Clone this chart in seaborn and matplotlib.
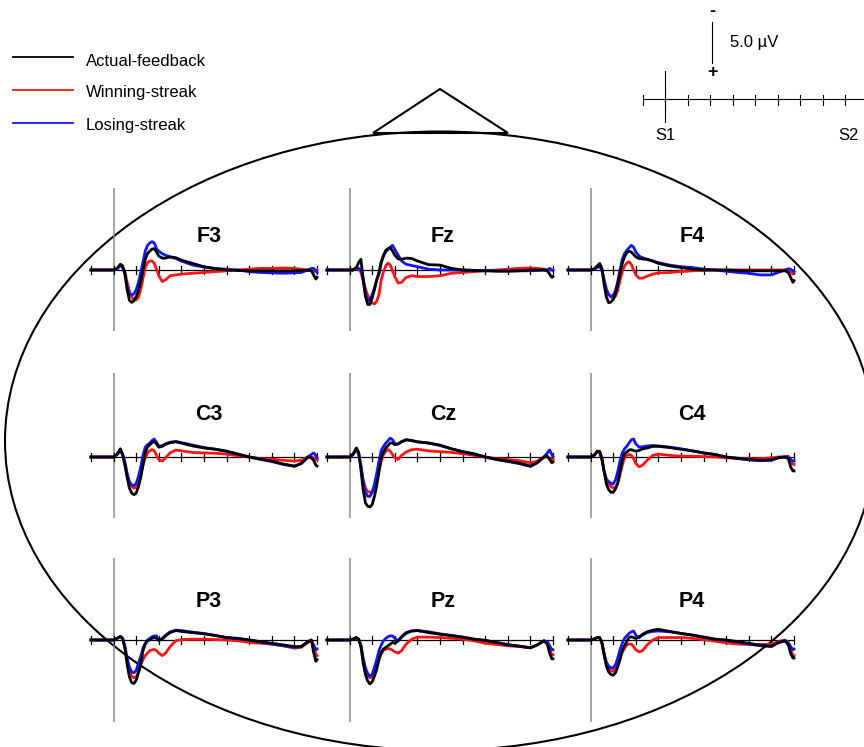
import matplotlib
matplotlib.use("Agg")
import matplotlib.pyplot as plt
from matplotlib.patches import Ellipse, Polygon
import pandas as pd
import seaborn as sns

# ---------------- data ----------------
TIME_MS = [-100, -50, 0, 15, 30, 40, 50, 60, 70, 80, 90, 100, 110, 120, 130, 140, 150, 160, 170, 180,
           190, 200, 215, 230, 250, 275, 300, 350, 400, 450, 500, 550, 600, 650, 700, 750, 800, 830,
           860, 875, 885, 895, 900]
ELECTRODES = ["F3", "Fz", "F4", "C3", "Cz", "C4", "P3", "Pz", "P4"]
CONDITIONS = ["Actual-feedback", "Winning-streak", "Losing-streak"]
COLORS = {"Actual-feedback": "#000000", "Winning-streak": "#ff1414", "Losing-streak": "#1414ff"}
TICKS_MS = [-100, 0, 100, 200, 300, 400, 500, 600, 700, 800, 900]
SCALE_UV = 5.0

# amplitudes in microvolts (negative plotted upward)
F3_actual = [0, 0, 0, -0.2, -0.7, -0.5, 0.5, 2.4, 3.7, 3.95, 3.75, 3.25, 2.55, 1.4, 0.0, -1.3, -2.0, -2.3, -2.55, -2.6, -2.2, -1.7, -1.45, -1.45, -1.6, -1.5, -1.2, -0.8, -0.4, -0.15, 0.0, 0.05, 0.1, 0.1, 0.1, 0.1, 0.1, 0.05, 0.0, 0.1, 0.6, 1.1, 0.9]
F3_winning = [0, 0, 0, -0.1, -0.6, -0.3, 0.3, 1.5, 2.6, 3.3, 3.6, 3.65, 3.3, 2.4, 1.0, -0.3, -0.9, -1.1, -1.1, -0.8, -0.1, 0.7, 1.4, 1.2, 0.7, 0.6, 0.5, 0.4, 0.3, 0.2, 0.1, 0.0, -0.1, -0.2, -0.2, -0.25, -0.2, -0.1, 0.0, 0.1, 0.2, 0.1, 0.0]
F3_losing = [0, 0, 0, -0.1, -0.6, -0.3, 0.3, 2.0, 2.9, 3.05, 2.9, 2.4, 1.5, 0.3, -1.0, -2.3, -3.0, -3.3, -3.45, -3.3, -2.6, -2.3, -2.0, -1.8, -1.6, -1.4, -1.1, -0.6, -0.35, -0.2, -0.1, 0.0, 0.2, 0.3, 0.35, 0.4, 0.35, 0.3, 0.0, -0.2, -0.2, 0.1, 0.3]

Fz_actual = [0, 0, 0, 0, -0.3, -0.9, -1.3, 1.2, 3.2, 4.2, 4.2, 3.4, 2.4, 1.2, 0.3, -1.0, -1.8, -2.4, -2.6, -2.7, -2.3, -1.8, -1.35, -1.3, -1.45, -1.4, -1.1, -0.65, -0.6, -0.2, 0.0, 0.05, 0.1, 0.15, 0.15, 0.1, 0.0, 0.0, 0.0, 0.1, 0.5, 0.9, 0.8]
Fz_winning = [0, 0, 0, 0, -0.3, -0.1, 0.3, 1.3, 2.3, 3.1, 3.6, 4.0, 4.15, 3.8, 3.0, 1.2, 0.2, -0.5, -0.85, -0.6, 0.1, 0.8, 1.6, 1.5, 0.9, 0.7, 0.8, 0.8, 0.7, 0.4, 0.3, 0.2, 0.1, 0.0, -0.1, -0.2, -0.25, -0.2, -0.1, 0.0, 0.0, 0.0, 0.0]
Fz_losing = [0, 0, 0, 0, -0.3, -0.2, 0.0, 1.0, 2.8, 3.8, 3.6, 3.0, 2.2, 1.2, 0.5, -0.9, -1.7, -2.2, -2.5, -2.8, -3.0, -2.5, -1.8, -1.1, -0.7, -0.55, -0.4, -0.1, 0.0, 0.0, 0.0, 0.05, 0.05, 0.1, 0.1, 0.1, 0.1, 0.05, 0.0, 0.0, -0.2, 0.0, 0.1]

F4_actual = [0, 0, 0, -0.1, -0.5, -0.8, -0.2, 1.8, 3.3, 4.0, 3.9, 3.6, 2.9, 1.8, 0.4, -0.8, -1.6, -2.1, -2.3, -2.2, -1.9, -1.6, -1.4, -1.35, -1.3, -1.1, -0.8, -0.5, -0.3, -0.1, 0.0, 0.0, 0.0, 0.05, 0.1, 0.1, 0.1, 0.1, 0.1, 0.3, 0.9, 1.5, 1.3]
F4_winning = [0, 0, 0, -0.1, -0.5, -0.4, 0.0, 1.3, 2.4, 3.0, 3.3, 3.4, 3.2, 2.5, 1.3, 0.2, -0.5, -0.85, -1.0, -0.7, 0.0, 0.6, 1.0, 1.0, 0.75, 0.5, 0.35, 0.3, 0.2, 0.1, 0.05, 0.0, 0.0, 0.0, 0.0, 0.0, 0.0, 0.0, 0.0, 0.0, 0.2, 0.5, 0.4]
F4_losing = [0, 0, 0, -0.1, -0.3, -0.5, 0.0, 1.2, 2.4, 3.0, 3.2, 3.1, 2.5, 1.4, 0.0, -1.3, -2.0, -2.4, -2.7, -3.0, -2.8, -2.2, -1.7, -1.5, -1.3, -1.1, -0.9, -0.6, -0.4, -0.3, -0.1, 0.0, 0.15, 0.3, 0.4, 0.6, 0.6, 0.3, 0.0, -0.15, -0.1, 0.1, 0.2]

C3_actual = [0, 0, 0, -0.3, -1.0, -0.3, 1.0, 2.5, 3.8, 4.4, 4.6, 4.4, 3.6, 2.5, 1.0, -0.6, -1.2, -1.5, -1.75, -1.9, -1.6, -1.2, -1.3, -1.55, -1.75, -1.85, -1.7, -1.35, -1.1, -0.95, -0.7, -0.35, 0.0, 0.25, 0.5, 0.85, 1.1, 0.8, 0.0, 0.1, 0.4, 1.0, 1.1]
C3_winning = [0, 0, 0, -0.3, -0.9, -0.3, 0.8, 2.2, 3.2, 3.6, 3.8, 3.7, 3.2, 2.2, 1.0, 0.1, -0.5, -0.75, -0.9, -0.75, -0.2, 0.3, 0.5, 0.1, -0.5, -0.85, -0.75, -0.55, -0.5, -0.45, -0.35, -0.15, 0.0, 0.2, 0.25, 0.4, 0.5, 0.4, 0.0, 0.0, 0.1, 0.3, 0.35]
C3_losing = [0, 0, 0, -0.3, -0.8, -0.3, 0.6, 2.0, 3.0, 3.4, 3.5, 3.2, 2.4, 1.2, -0.2, -1.2, -1.5, -1.7, -2.0, -2.2, -1.8, -1.3, -1.4, -1.6, -1.8, -1.9, -1.75, -1.45, -1.15, -0.95, -0.7, -0.35, 0.0, 0.3, 0.55, 0.9, 1.15, 0.8, 0.0, -0.3, -0.5, -0.2, 0.1]

Cz_actual = [0, 0, 0, -0.3, -1.1, -0.6, 1.5, 4.0, 5.6, 6.0, 6.1, 5.8, 4.8, 3.5, 1.8, 0.1, -0.6, -1.1, -1.4, -1.7, -1.7, -1.5, -1.6, -1.85, -2.1, -2.0, -1.85, -1.7, -1.45, -1.0, -0.65, -0.4, 0.0, 0.3, 0.5, 0.75, 1.1, 0.7, 0.0, -0.1, 0.3, 0.7, 0.6]
Cz_winning = [0, 0, 0, -0.3, -1.0, -0.4, 1.1, 2.8, 3.8, 4.2, 4.3, 4.2, 3.7, 2.8, 1.6, 0.5, -0.3, -0.7, -0.9, -0.7, -0.3, 0.1, 0.3, -0.2, -0.6, -0.9, -0.95, -0.75, -0.65, -0.55, -0.4, -0.2, 0.0, 0.2, 0.3, 0.45, 0.7, 0.5, 0.0, 0.0, 0.15, 0.3, 0.3]
Cz_losing = [0, 0, 0, -0.3, -0.9, -0.4, 1.0, 3.0, 4.3, 4.8, 4.8, 4.3, 3.3, 2.0, 0.5, -0.8, -1.3, -1.7, -2.0, -2.3, -2.1, -1.6, -1.6, -1.9, -2.1, -2.0, -1.85, -1.7, -1.4, -1.0, -0.65, -0.35, 0.0, 0.3, 0.55, 0.8, 1.15, 0.7, 0.0, -0.5, -0.85, -0.3, -0.1]

C4_actual = [0, 0, 0, -0.2, -0.7, -0.7, 0.2, 1.8, 3.3, 4.0, 4.3, 4.3, 3.9, 3.2, 1.8, 0.5, -0.4, -0.6, -0.85, -0.9, -0.8, -0.7, -0.8, -1.0, -1.1, -1.3, -1.3, -1.15, -0.95, -0.75, -0.5, -0.3, 0.0, 0.15, 0.3, 0.4, 0.35, 0.1, 0.0, 0.2, 1.2, 1.7, 1.7]
C4_winning = [0, 0, 0, -0.2, -0.7, -0.6, 0.3, 1.7, 2.8, 3.3, 3.6, 3.8, 3.7, 3.2, 2.2, 1.0, 0.1, -0.2, -0.3, -0.2, 0.2, 0.8, 1.2, 1.0, 0.4, -0.2, -0.35, -0.2, -0.1, -0.1, -0.05, 0.0, 0.1, 0.15, 0.2, 0.2, 0.1, 0.0, -0.05, -0.1, 0.3, 0.9, 0.9]
C4_losing = [0, 0, 0, -0.2, -0.6, -0.6, 0.2, 1.8, 2.7, 3.0, 3.2, 3.3, 2.8, 1.8, 0.5, -0.5, -1.0, -1.3, -1.7, -2.1, -2.2, -1.6, -1.2, -1.25, -1.35, -1.4, -1.35, -1.2, -1.0, -0.75, -0.5, -0.3, 0.0, 0.2, 0.35, 0.45, 0.4, 0.1, 0.0, 0.0, 0.3, 0.5, 0.5]

P3_actual = [0, 0, 0, -0.2, -0.45, -0.2, 1.0, 3.0, 4.5, 5.2, 5.3, 4.9, 4.0, 3.0, 1.3, 0.5, 0.1, 0.0, -0.2, -0.3, -0.2, 0.0, -0.1, -0.5, -0.9, -1.15, -1.05, -0.9, -0.75, -0.55, -0.3, -0.2, 0.0, 0.2, 0.4, 0.6, 0.8, 0.8, 0.2, 0.0, 1.5, 2.6, 2.4]
P3_winning = [0, 0, 0, -0.2, -0.4, -0.2, 0.9, 2.5, 3.8, 4.4, 4.6, 4.5, 3.9, 3.0, 2.4, 1.9, 1.6, 1.3, 1.2, 1.15, 1.3, 1.6, 1.9, 1.6, 0.8, 0.1, -0.05, -0.1, -0.1, -0.05, 0.0, 0.1, 0.3, 0.4, 0.5, 0.7, 1.0, 0.9, 0.3, 0.1, 1.0, 1.7, 1.9]
P3_losing = [0, 0, 0, -0.2, -0.4, -0.2, 0.8, 2.2, 3.3, 3.9, 4.0, 3.7, 2.8, 2.0, 1.0, 0.4, 0.0, -0.2, -0.4, -0.5, -0.5, 0.1, -0.2, -0.6, -1.0, -1.2, -1.15, -0.95, -0.8, -0.55, -0.3, -0.15, 0.0, 0.25, 0.5, 0.7, 0.9, 0.8, 0.2, 0.0, 0.6, 1.2, 1.1]

Pz_actual = [0, 0, 0, -0.1, -0.3, -0.1, 0.8, 2.8, 4.2, 5.0, 5.35, 5.1, 4.4, 3.6, 2.3, 1.5, 1.1, 0.9, 0.7, 0.5, 0.3, 0.4, 0.1, -0.4, -0.9, -1.1, -1.15, -0.9, -0.7, -0.55, -0.35, -0.1, 0.05, 0.3, 0.6, 0.75, 0.95, 0.6, 0.1, 0.5, 1.6, 2.3, 2.3]
Pz_winning = [0, 0, 0, -0.1, -0.3, -0.1, 0.7, 2.4, 3.6, 4.3, 4.6, 4.55, 4.0, 3.3, 2.4, 1.7, 1.25, 1.1, 1.05, 1.1, 1.25, 1.45, 1.6, 1.3, 0.5, -0.1, -0.35, -0.35, -0.3, -0.2, -0.1, 0.1, 0.4, 0.55, 0.7, 0.8, 0.95, 0.6, 0.1, 0.4, 1.2, 1.8, 1.8]
Pz_losing = [0, 0, 0, -0.1, -0.3, -0.1, 0.6, 2.2, 3.4, 4.1, 4.4, 4.2, 3.3, 2.4, 1.3, 0.6, 0.1, -0.2, -0.4, -0.5, -0.5, -0.2, 0.1, -0.35, -0.8, -1.1, -1.15, -1.0, -0.75, -0.55, -0.35, -0.1, 0.05, 0.3, 0.55, 0.75, 0.95, 0.6, 0.1, 0.2, 0.7, 1.2, 1.2]

P4_actual = [0, 0, 0, -0.1, -0.3, -0.3, 0.3, 1.8, 3.2, 3.9, 4.2, 4.3, 4.0, 3.3, 2.4, 1.3, 0.7, 0.2, -0.3, -0.4, -0.3, -0.2, -0.35, -0.7, -1.0, -1.2, -1.3, -1.05, -0.8, -0.6, -0.35, -0.1, 0.0, 0.2, 0.4, 0.65, 0.75, 0.3, 0.1, 0.6, 1.6, 2.2, 2.2]
P4_winning = [0, 0, 0, -0.1, -0.3, -0.2, 0.4, 1.8, 3.0, 3.5, 3.75, 3.8, 3.6, 3.0, 2.2, 1.5, 1.0, 0.6, 0.5, 0.5, 0.8, 1.2, 1.45, 1.3, 0.6, 0.0, -0.3, -0.3, -0.3, -0.2, -0.05, 0.15, 0.35, 0.5, 0.55, 0.55, 0.5, 0.2, 0.0, 0.3, 1.2, 1.9, 1.9]
P4_losing = [0, 0, 0, -0.1, -0.3, -0.3, 0.3, 1.7, 2.7, 3.2, 3.4, 3.4, 3.0, 2.2, 1.2, 0.4, -0.2, -0.5, -0.8, -1.0, -1.1, -0.6, -0.3, -0.6, -0.9, -1.05, -1.1, -1.0, -0.8, -0.6, -0.35, -0.1, 0.05, 0.25, 0.5, 0.7, 0.8, 0.35, 0.1, 0.3, 0.8, 1.2, 1.1]

WAVES = {
    "F3": (F3_actual, F3_winning, F3_losing), "Fz": (Fz_actual, Fz_winning, Fz_losing),
    "F4": (F4_actual, F4_winning, F4_losing), "C3": (C3_actual, C3_winning, C3_losing),
    "Cz": (Cz_actual, Cz_winning, Cz_losing), "C4": (C4_actual, C4_winning, C4_losing),
    "P3": (P3_actual, P3_winning, P3_losing), "Pz": (Pz_actual, Pz_winning, Pz_losing),
    "P4": (P4_actual, P4_winning, P4_losing),
}

# ---------------- layout (pixels) ----------------
W, H = 864, 747
FONT = "Liberation Sans"
PX_PER_UV = 41.0 / SCALE_UV
COL_LEFT = [91, 327, 568]
COL_RIGHT = [317, 553, 794]
ROWS = [(188, 270, 331), (373, 457, 518), (558, 640, 722)]  # top, baseline, bottom
TITLE_X = [209, 443, 692]
TITLE_BASE = [242, 420, 607]

fig = plt.figure(figsize=(W / 100, H / 100), dpi=100)
bg = fig.add_axes([0, 0, 1, 1])
bg.set_xlim(0, W)
bg.set_ylim(H, 0)
bg.axis("off")

# head outline and nose
bg.add_patch(Ellipse((440, 441), 870, 619, fill=False, ec="black", lw=1.5))
bg.add_patch(Polygon([[373, 133], [440, 89], [508, 133]], closed=True, fill=False, ec="black", lw=1.5))

# legend
for yl, yt, cond in zip([57, 90, 123], [66, 97, 130], CONDITIONS):
    bg.plot([13, 73], [yl, yl], color=COLORS[cond], lw=1.3)
    bg.text(86, yt, cond, fontsize=12, family=FONT, va="baseline", ha="left")

# scale bar
bg.plot([643, 864], [99, 99], color="black", lw=0.8, clip_on=False)
for k in range(10):
    x = 642.7 + 22.5 * k
    bg.plot([x, x], [94.5, 105], color="black", lw=0.8)
bg.plot([665, 665], [71, 122], color="black", lw=0.8)
bg.plot([712, 712], [22, 63], color="black", lw=0.8)
bg.text(712, 12, "-", fontsize=13, fontweight="bold", family=FONT, ha="center", va="center")
bg.text(713, 73, "+", fontsize=13, fontweight="bold", family=FONT, ha="center", va="center")
bg.text(730, 47, "5.0 µV", fontsize=12, family=FONT, ha="left", va="baseline")
bg.text(665, 140, "S1", fontsize=12, family=FONT, ha="center", va="baseline")
bg.text(848, 140, "S2", fontsize=12, family=FONT, ha="center", va="baseline")

# ---------------- panels ----------------
hue_draw_order = ["Winning-streak", "Losing-streak", "Actual-feedback"]
for i, name in enumerate(ELECTRODES):
    r, c = divmod(i, 3)
    top, base, bottom = ROWS[r]
    L, R = COL_LEFT[c], COL_RIGHT[c]
    ax = fig.add_axes([L / W, 1 - bottom / H, (R - L) / W, (bottom - top) / H])
    ax.patch.set_alpha(0)

    rows = []
    for cond, vals in zip(CONDITIONS, WAVES[name]):
        for t, v in zip(TIME_MS, vals):
            rows.append({"time": t, "uV": v, "condition": cond})
    df = pd.DataFrame(rows)

    ax.axvline(0, color="#8a8a8a", lw=1.1, zorder=1)
    ax.plot([TICKS_MS[0], TICKS_MS[-1]], [0, 0], color="black", lw=0.9, zorder=2, clip_on=False)
    tick_half = 4.0 / PX_PER_UV
    for t in TICKS_MS:
        ax.plot([t, t], [-tick_half, tick_half], color="black", lw=0.9, zorder=2, clip_on=False)

    sns.lineplot(data=df, x="time", y="uV", hue="condition", hue_order=hue_draw_order,
                 palette=COLORS, errorbar=None, legend=False, lw=2.0, ax=ax,
                 clip_on=False, zorder=3)

    ax.set_xlim(TICKS_MS[0], TICKS_MS[-1])
    ax.set_ylim((bottom - base) / PX_PER_UV, -(base - top) / PX_PER_UV)
    ax.axis("off")

    bg.text(TITLE_X[c], TITLE_BASE[r], name, fontsize=15.5, fontweight="bold", family=FONT,
            ha="center", va="baseline")

fig.savefig("out.png", dpi=100)
